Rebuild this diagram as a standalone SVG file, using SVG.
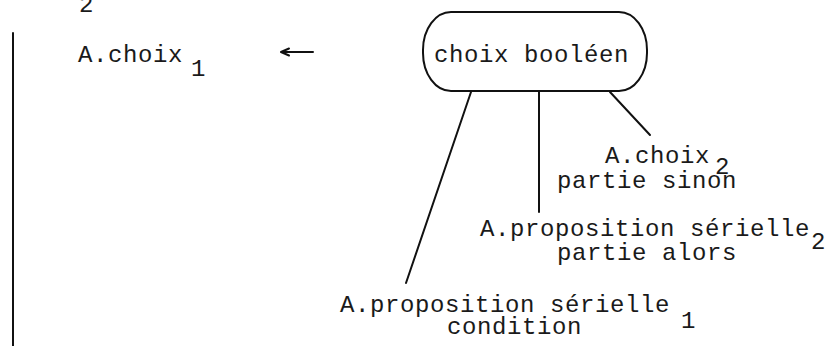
<svg xmlns="http://www.w3.org/2000/svg" width="839" height="346" viewBox="0 0 839 346">
<style>
text{font-family:"Liberation Mono","DejaVu Sans Mono",monospace;font-size:24px;letter-spacing:0.6px;fill:#1a1a1a}
.ln{stroke:#111;stroke-width:2;fill:none;stroke-linecap:round}
</style>
<rect width="839" height="346" fill="#fff"/>
<g id="margin">
<text x="79" y="12">2</text>
<line class="ln" x1="13" y1="33" x2="13" y2="346"/>
</g>
<g id="lhs">
<text x="78" y="62">A.choix</text>
<text x="191" y="76">1</text>
</g>
<g id="assign">
<path class="ln" d="M313 52 H281 M281 52 L289 48.5 M281 52 L289 55.5" stroke-width="1.6"/>
</g>
<g id="root">
<rect class="ln" x="423" y="12" width="224" height="79" rx="28" ry="38"/>
<text x="434" y="62">choix booléen</text>
</g>
<g id="connectors">
<line class="ln" x1="471" y1="92" x2="406" y2="283"/>
<line class="ln" x1="539" y1="92" x2="539" y2="212"/>
<line class="ln" x1="610" y1="92" x2="650" y2="135"/>
</g>
<g id="choix2">
<text x="605" y="163">A.choix</text>
<text x="715" y="174">2</text>
<text x="557" y="188">partie sinon</text>
</g>
<g id="prop2">
<text x="480" y="236">A.proposition sérielle</text>
<text x="811" y="249">2</text>
<text x="557" y="260">partie alors</text>
</g>
<g id="prop1">
<text x="340" y="312">A.proposition sérielle</text>
<text x="681" y="328">1</text>
<text x="447" y="334">condition</text>
</g>
</svg>
